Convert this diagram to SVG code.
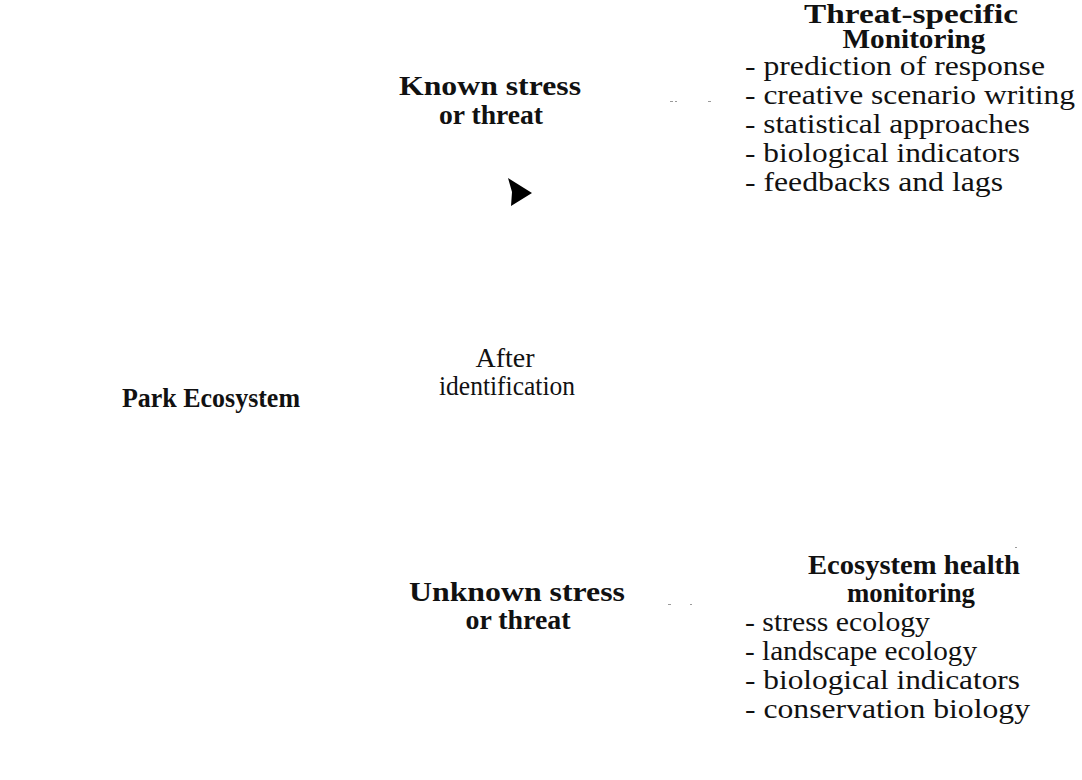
<svg xmlns="http://www.w3.org/2000/svg" width="1082" height="780" viewBox="0 0 1082 780">
  <style>
    text { font-family: "Liberation Serif", "Times New Roman", serif; font-size: 28px; fill: #111; }
    .b { font-weight: bold; font-size: 27px; }
    .c { text-anchor: middle; }
    .speck { fill: #9a9a9a; }
  </style>
  <rect width="1082" height="780" fill="#ffffff"/>

  <g id="park-ecosystem">
    <text class="b" x="122" y="407" textLength="178" lengthAdjust="spacingAndGlyphs">Park Ecosystem</text>
  </g>

  <g id="known-stress">
    <text class="b c" x="490" y="95" textLength="182" lengthAdjust="spacingAndGlyphs">Known stress</text>
    <text class="b c" x="491" y="124" textLength="104" lengthAdjust="spacingAndGlyphs">or threat</text>
  </g>

  <g id="after-identification">
    <text class="c" x="505" y="367">After</text>
    <text class="c" x="507" y="395" textLength="136" lengthAdjust="spacingAndGlyphs">identification</text>
  </g>

  <g id="unknown-stress">
    <text class="b c" x="517" y="601" textLength="216" lengthAdjust="spacingAndGlyphs">Unknown stress</text>
    <text class="b c" x="518" y="629" textLength="105" lengthAdjust="spacingAndGlyphs">or threat</text>
  </g>

  <g id="threat-specific-monitoring">
    <text class="b c" x="911" y="23" textLength="214" lengthAdjust="spacingAndGlyphs">Threat-specific</text>
    <text class="b c" x="914" y="48" textLength="143" lengthAdjust="spacingAndGlyphs">Monitoring</text>
    <text x="745" y="75" textLength="300" lengthAdjust="spacingAndGlyphs">- prediction of response</text>
    <text x="745" y="104" textLength="330" lengthAdjust="spacingAndGlyphs">- creative scenario writing</text>
    <text x="745" y="133" textLength="285" lengthAdjust="spacingAndGlyphs">- statistical approaches</text>
    <text x="745" y="162" textLength="275" lengthAdjust="spacingAndGlyphs">- biological indicators</text>
    <text x="745" y="191" textLength="258" lengthAdjust="spacingAndGlyphs">- feedbacks and lags</text>
  </g>

  <g id="ecosystem-health-monitoring">
    <text class="b c" x="914" y="574" textLength="212" lengthAdjust="spacingAndGlyphs">Ecosystem health</text>
    <text class="b c" x="911" y="602" textLength="128" lengthAdjust="spacingAndGlyphs">monitoring</text>
    <text x="745" y="631" textLength="185" lengthAdjust="spacingAndGlyphs">- stress ecology</text>
    <text x="745" y="660" textLength="232" lengthAdjust="spacingAndGlyphs">- landscape ecology</text>
    <text x="745" y="689" textLength="275" lengthAdjust="spacingAndGlyphs">- biological indicators</text>
    <text x="745" y="718" textLength="285" lengthAdjust="spacingAndGlyphs">- conservation biology</text>
  </g>

  <g id="connectors">
    <path d="M508,178 L532,193 L511,206 L512,192 Z" fill="#000"/>
  </g>

  <g id="scan-specks">
    <rect class="speck" x="250" y="398" width="3" height="1"/>
    <rect class="speck" x="262" y="398" width="2" height="1"/>
    <rect class="speck" x="670" y="101" width="3" height="1"/>
    <rect class="speck" x="675" y="101" width="2" height="1"/>
    <rect class="speck" x="708" y="101" width="3" height="1"/>
    <rect class="speck" x="668" y="604" width="3" height="1"/>
    <rect class="speck" x="690" y="604" width="2" height="1"/>
    <rect class="speck" x="1015" y="547" width="2" height="1"/>
  </g>
</svg>
